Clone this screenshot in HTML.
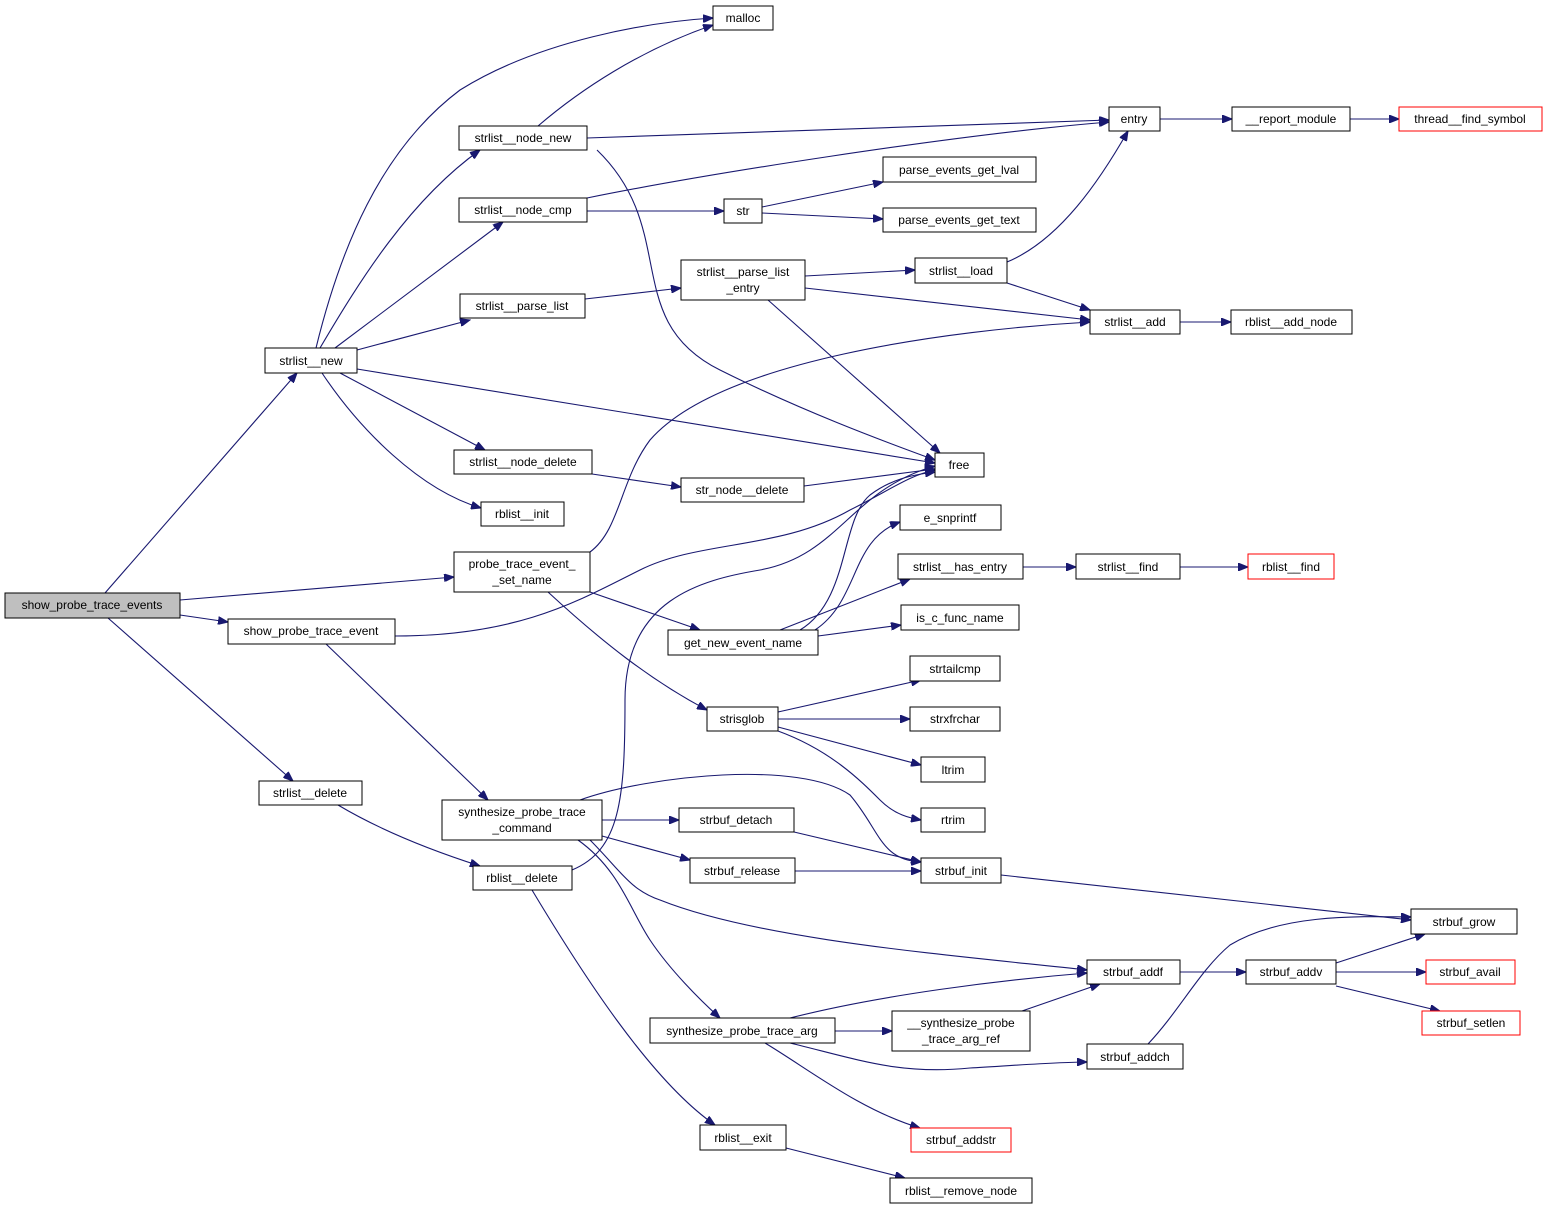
<!DOCTYPE html>
<html><head><meta charset="utf-8"><style>
html,body{margin:0;padding:0;background:#fff;}
svg{display:block;}
text{font-family:"Liberation Sans",sans-serif;font-size:12px;fill:#000;}
.n{fill:#fff;stroke:#000;stroke-width:1;}
.r{fill:#fff;stroke:#f00;stroke-width:1;}
.e{fill:none;stroke:#191970;stroke-width:1.1;}
</style></head><body>
<svg width="1548" height="1211" viewBox="0 0 1548 1211" xmlns="http://www.w3.org/2000/svg">
<defs><marker id="a" markerUnits="userSpaceOnUse" markerWidth="11" markerHeight="8" refX="10" refY="4" orient="auto"><path d="M0,0 L10,4 L0,8 Z" fill="#191970" stroke="#191970"/></marker></defs>
<g marker-end="url(#a)">
<path class="e" d="M105,593 L297,373"/>
<path class="e" d="M180,600 L454,577"/>
<path class="e" d="M180,615 L228,622"/>
<path class="e" d="M108,618 L293,781"/>
<path class="e" d="M316,348 C340,250 380,150 460,90 C540,40 650,22 713,18"/>
<path class="e" d="M320,348 C360,280 410,200 480,150"/>
<path class="e" d="M335,348 L503,222"/>
<path class="e" d="M357,350 L470,320"/>
<path class="e" d="M357,369 L935,463"/>
<path class="e" d="M340,373 L485,450"/>
<path class="e" d="M322,373 C360,430 420,490 481,508"/>
<path class="e" d="M538,126 C580,90 640,50 713,25"/>
<path class="e" d="M587,138 L1109,120"/>
<path class="e" d="M597,150 C680,230 620,320 720,370 C800,410 880,440 935,460"/>
<path class="e" d="M587,198 C700,175 950,135 1109,122"/>
<path class="e" d="M587,211 L724,211"/>
<path class="e" d="M585,299 L681,288"/>
<path class="e" d="M805,276 L915,270"/>
<path class="e" d="M805,288 L1090,320"/>
<path class="e" d="M768,300 L940,453"/>
<path class="e" d="M762,207 L883,182"/>
<path class="e" d="M762,213 L883,219"/>
<path class="e" d="M1007,262 C1060,240 1100,180 1128,131"/>
<path class="e" d="M1007,283 L1090,310"/>
<path class="e" d="M1180,322 L1231,322"/>
<path class="e" d="M1160,119 L1232,119"/>
<path class="e" d="M1350,119 L1399,119"/>
<path class="e" d="M592,474 L681,487"/>
<path class="e" d="M804,486 L935,469"/>
<path class="e" d="M590,552 C620,530 620,480 650,440 C720,360 950,330 1090,322"/>
<path class="e" d="M590,592 L700,630"/>
<path class="e" d="M548,592 C600,640 650,680 707,710"/>
<path class="e" d="M395,636 C520,636 580,600 640,570 C700,540 780,550 850,510 C890,490 910,475 935,470"/>
<path class="e" d="M325,643 L488,800"/>
<path class="e" d="M800,630 C850,600 840,520 870,495 C890,480 910,475 935,472"/>
<path class="e" d="M815,630 C860,600 850,540 900,522"/>
<path class="e" d="M780,630 L910,579"/>
<path class="e" d="M818,636 L901,625"/>
<path class="e" d="M1023,567 L1076,567"/>
<path class="e" d="M1180,567 L1248,567"/>
<path class="e" d="M778,712 L921,680"/>
<path class="e" d="M778,719 L910,719"/>
<path class="e" d="M778,727 L921,765"/>
<path class="e" d="M778,731 C830,750 860,780 880,800 C895,815 910,818 921,820"/>
<path class="e" d="M338,805 C380,830 430,850 480,866"/>
<path class="e" d="M572,870 C620,850 625,800 625,700 C625,600 700,580 760,570 C840,555 850,490 935,466"/>
<path class="e" d="M532,890 C580,970 650,1080 715,1125"/>
<path class="e" d="M602,820 L679,820"/>
<path class="e" d="M602,836 L690,860"/>
<path class="e" d="M580,800 C650,775 800,760 850,795 C880,830 880,860 921,862"/>
<path class="e" d="M590,840 C620,870 630,890 660,900 C760,940 950,955 1087,970"/>
<path class="e" d="M578,840 C620,870 630,910 650,940 C670,970 700,1000 720,1018"/>
<path class="e" d="M794,832 L921,862"/>
<path class="e" d="M795,871 L921,871"/>
<path class="e" d="M1001,875 L1411,920"/>
<path class="e" d="M1180,972 L1246,972"/>
<path class="e" d="M1336,963 L1425,934"/>
<path class="e" d="M1336,972 L1426,972"/>
<path class="e" d="M1336,986 L1440,1011"/>
<path class="e" d="M790,1018 C880,995 1000,980 1087,973"/>
<path class="e" d="M835,1031 L892,1031"/>
<path class="e" d="M790,1043 C860,1060 900,1075 970,1068 C1020,1065 1060,1062 1087,1062"/>
<path class="e" d="M765,1043 C810,1070 860,1110 920,1128"/>
<path class="e" d="M1022,1011 L1100,984"/>
<path class="e" d="M1148,1044 C1180,1010 1200,970 1230,945 C1280,915 1350,916 1411,917"/>
<path class="e" d="M786,1148 L905,1178"/>
</g>
<g>
<rect x="5" y="593" width="175" height="25" fill="#bfbfbf" stroke="#000"/><text x="92" y="609" text-anchor="middle">show_probe_trace_events</text>
<rect class="n" x="265" y="348" width="92" height="25"/><text x="311" y="365" text-anchor="middle">strlist__new</text>
<rect class="n" x="713" y="6" width="60" height="24"/><text x="743" y="22" text-anchor="middle">malloc</text>
<rect class="n" x="459" y="126" width="128" height="24"/><text x="523" y="142" text-anchor="middle">strlist__node_new</text>
<rect class="n" x="459" y="198" width="128" height="24"/><text x="523" y="214" text-anchor="middle">strlist__node_cmp</text>
<rect class="n" x="460" y="294" width="125" height="24"/><text x="522" y="310" text-anchor="middle">strlist__parse_list</text>
<rect class="n" x="454" y="450" width="138" height="24"/><text x="523" y="466" text-anchor="middle">strlist__node_delete</text>
<rect class="n" x="481" y="502" width="83" height="24"/><text x="522" y="518" text-anchor="middle">rblist__init</text>
<rect class="n" x="454" y="552" width="136" height="40"/><text x="522" y="568" text-anchor="middle">probe_trace_event_</text><text x="522" y="584" text-anchor="middle">_set_name</text>
<rect class="n" x="228" y="619" width="167" height="25"/><text x="311" y="635" text-anchor="middle">show_probe_trace_event</text>
<rect class="n" x="259" y="781" width="103" height="24"/><text x="310" y="797" text-anchor="middle">strlist__delete</text>
<rect class="n" x="442" y="800" width="160" height="40"/><text x="522" y="816" text-anchor="middle">synthesize_probe_trace</text><text x="522" y="832" text-anchor="middle">_command</text>
<rect class="n" x="473" y="866" width="99" height="24"/><text x="522" y="882" text-anchor="middle">rblist__delete</text>
<rect class="n" x="1109" y="107" width="51" height="24"/><text x="1134" y="123" text-anchor="middle">entry</text>
<rect class="n" x="1232" y="107" width="118" height="24"/><text x="1291" y="123" text-anchor="middle">__report_module</text>
<rect class="r" x="1399" y="107" width="143" height="24"/><text x="1470" y="123" text-anchor="middle">thread__find_symbol</text>
<rect class="n" x="724" y="199" width="38" height="24"/><text x="743" y="215" text-anchor="middle">str</text>
<rect class="n" x="883" y="157" width="153" height="25"/><text x="959" y="174" text-anchor="middle">parse_events_get_lval</text>
<rect class="n" x="883" y="208" width="153" height="24"/><text x="959" y="224" text-anchor="middle">parse_events_get_text</text>
<rect class="n" x="681" y="260" width="124" height="40"/><text x="743" y="276" text-anchor="middle">strlist__parse_list</text><text x="743" y="292" text-anchor="middle">_entry</text>
<rect class="n" x="915" y="258" width="92" height="25"/><text x="961" y="275" text-anchor="middle">strlist__load</text>
<rect class="n" x="1090" y="310" width="90" height="24"/><text x="1135" y="326" text-anchor="middle">strlist__add</text>
<rect class="n" x="1231" y="310" width="121" height="24"/><text x="1291" y="326" text-anchor="middle">rblist__add_node</text>
<rect class="n" x="935" y="453" width="49" height="24"/><text x="959" y="469" text-anchor="middle">free</text>
<rect class="n" x="681" y="478" width="123" height="24"/><text x="742" y="494" text-anchor="middle">str_node__delete</text>
<rect class="n" x="900" y="505" width="101" height="25"/><text x="950" y="522" text-anchor="middle">e_snprintf</text>
<rect class="n" x="898" y="554" width="125" height="25"/><text x="960" y="571" text-anchor="middle">strlist__has_entry</text>
<rect class="n" x="1076" y="554" width="104" height="25"/><text x="1128" y="571" text-anchor="middle">strlist__find</text>
<rect class="r" x="1248" y="554" width="86" height="25"/><text x="1291" y="571" text-anchor="middle">rblist__find</text>
<rect class="n" x="901" y="605" width="118" height="25"/><text x="960" y="622" text-anchor="middle">is_c_func_name</text>
<rect class="n" x="668" y="630" width="150" height="25"/><text x="743" y="647" text-anchor="middle">get_new_event_name</text>
<rect class="n" x="910" y="656" width="90" height="25"/><text x="955" y="673" text-anchor="middle">strtailcmp</text>
<rect class="n" x="707" y="707" width="71" height="24"/><text x="742" y="723" text-anchor="middle">strisglob</text>
<rect class="n" x="910" y="707" width="90" height="24"/><text x="955" y="723" text-anchor="middle">strxfrchar</text>
<rect class="n" x="921" y="757" width="64" height="25"/><text x="953" y="774" text-anchor="middle">ltrim</text>
<rect class="n" x="921" y="808" width="64" height="24"/><text x="953" y="824" text-anchor="middle">rtrim</text>
<rect class="n" x="679" y="808" width="115" height="24"/><text x="736" y="824" text-anchor="middle">strbuf_detach</text>
<rect class="n" x="690" y="858" width="105" height="25"/><text x="742" y="875" text-anchor="middle">strbuf_release</text>
<rect class="n" x="921" y="858" width="80" height="25"/><text x="961" y="875" text-anchor="middle">strbuf_init</text>
<rect class="n" x="1411" y="909" width="106" height="25"/><text x="1464" y="926" text-anchor="middle">strbuf_grow</text>
<rect class="n" x="1087" y="960" width="93" height="24"/><text x="1133" y="976" text-anchor="middle">strbuf_addf</text>
<rect class="n" x="1246" y="960" width="90" height="24"/><text x="1291" y="976" text-anchor="middle">strbuf_addv</text>
<rect class="r" x="1426" y="960" width="89" height="24"/><text x="1470" y="976" text-anchor="middle">strbuf_avail</text>
<rect class="r" x="1422" y="1011" width="98" height="24"/><text x="1471" y="1027" text-anchor="middle">strbuf_setlen</text>
<rect class="n" x="650" y="1018" width="185" height="25"/><text x="742" y="1035" text-anchor="middle">synthesize_probe_trace_arg</text>
<rect class="n" x="892" y="1011" width="138" height="40"/><text x="961" y="1027" text-anchor="middle">__synthesize_probe</text><text x="961" y="1043" text-anchor="middle">_trace_arg_ref</text>
<rect class="n" x="1087" y="1044" width="96" height="25"/><text x="1135" y="1061" text-anchor="middle">strbuf_addch</text>
<rect class="r" x="911" y="1128" width="100" height="24"/><text x="961" y="1144" text-anchor="middle">strbuf_addstr</text>
<rect class="n" x="700" y="1125" width="86" height="25"/><text x="743" y="1142" text-anchor="middle">rblist__exit</text>
<rect class="n" x="890" y="1178" width="142" height="25"/><text x="961" y="1195" text-anchor="middle">rblist__remove_node</text>
</g>
</svg>
</body></html>
